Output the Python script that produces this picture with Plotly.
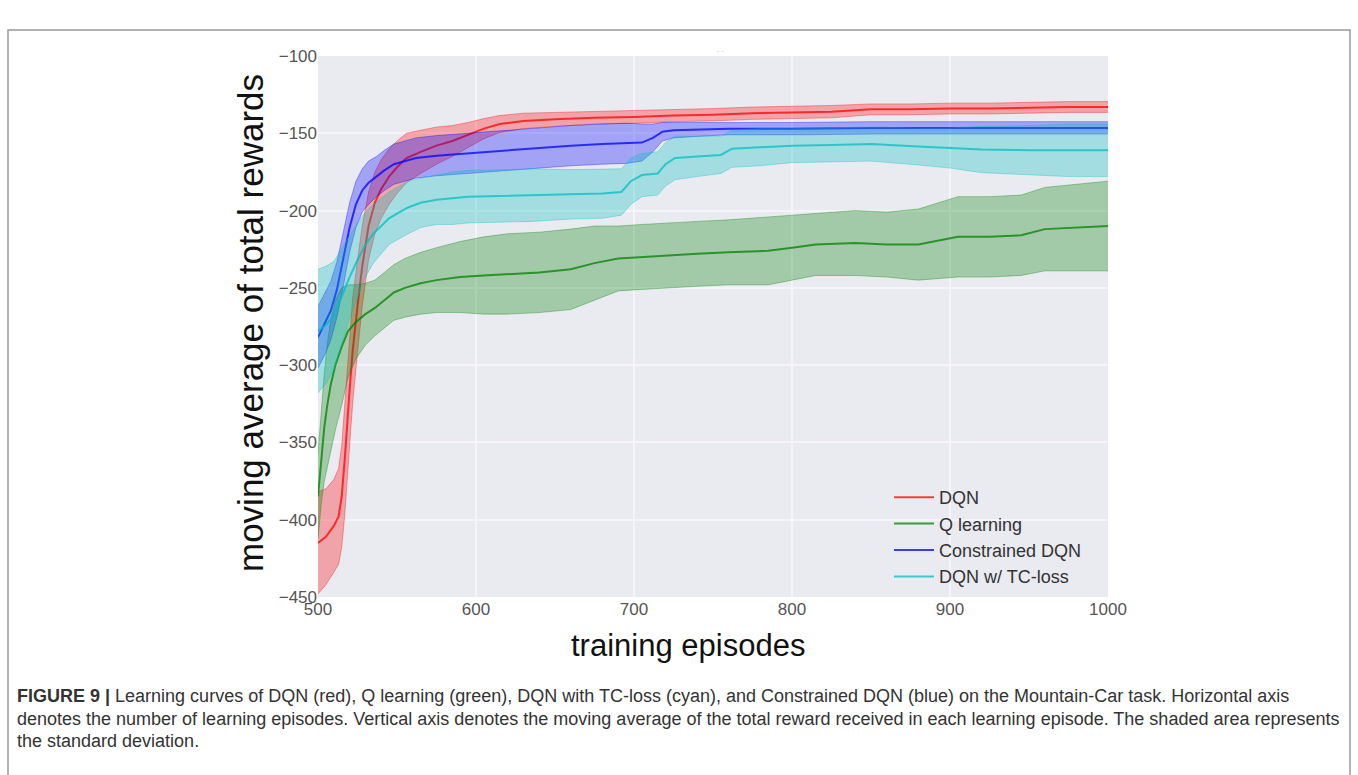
import plotly.graph_objects as go

# ---- data: moving average of total reward (mean and std) per method ----
dqn_ep = [500, 505, 510, 513, 515, 517, 520, 522, 525, 528, 532, 536, 540, 545, 550, 556, 565, 575, 585, 595,
          605, 615, 630, 650, 675, 700, 725, 750, 775, 800, 825, 850, 875, 900, 925, 950, 975, 1000]
dqn_mean = [-415, -411, -404, -398, -385, -360, -316, -290, -262, -236, -210, -195, -186, -178, -172, -166, -162, -158, -155, -151,
            -147, -144, -142, -141, -140, -139.5, -138.5, -138, -137, -136.5, -136, -134.5, -134.5, -134, -134, -133.5, -133, -133]
dqn_std = [33, 31, 30, 31, 33, 36, 36, 34, 30, 26, 22, 20, 19, 18, 17, 16, 14, 12, 10, 8,
           6.5, 5.5, 5, 4.5, 4, 4, 4, 4, 4, 4, 4, 3.5, 3.5, 3.5, 3.5, 3.5, 3.5, 3.5]

ql_ep = [500, 502, 504, 506, 508, 511, 515, 519, 524, 530, 536, 542, 548, 555, 565, 575, 590, 605, 620, 640,
         660, 675, 690, 705, 720, 740, 760, 785, 800, 815, 840, 860, 880, 905, 925, 945, 960, 980, 1000]
ql_mean = [-385, -360, -340, -325, -313, -300, -288, -278, -272, -267, -263, -258, -253, -250, -247, -245, -243, -242, -241, -240,
           -238, -234, -231, -230, -229, -228, -227, -226, -224, -222, -221, -222, -222, -217, -217, -216, -212, -211, -210]
ql_std = [28, 30, 35, 40, 42, 42, 38, 30, 24, 20, 18, 18, 18, 19, 20, 21, 23, 25, 26, 26,
          26, 24, 21, 21, 21, 21, 21, 22, 21, 20, 21, 21, 23, 26, 26, 26, 27, 28, 29]

cdqn_ep = [500, 504, 508, 512, 516, 520, 524, 528, 532, 537, 542, 548, 555, 562, 575, 594, 615, 636, 660, 680,
           695, 705, 712, 718, 725, 740, 760, 800, 850, 900, 950, 1000]
cdqn_mean = [-282, -274, -265, -251, -232, -211, -196, -187, -182, -178, -174, -170, -168, -166, -164.5, -163, -161.5, -160, -158, -157,
             -156.5, -156, -153, -149, -148, -147.5, -147, -147, -146.5, -146.5, -146.5, -146.5]
cdqn_std = [20, 20, 19, 18, 17, 16, 15, 14, 14, 13, 13, 13, 13, 13, 13, 13, 13, 13, 13, 13,
            13, 12, 9, 6, 5, 4.5, 4, 4, 4, 4, 4, 4]

tc_ep = [500, 505, 510, 516, 520, 525, 530, 535, 540, 545, 550, 557, 565, 575, 585, 595, 615, 636, 660, 680,
         692, 698, 705, 715, 720, 726, 740, 755, 762, 780, 800, 825, 850, 880, 900, 920, 950, 975, 1000]
tc_mean = [-278, -274, -268, -253, -243, -232, -222, -215, -210, -205, -202, -198, -195, -193, -192, -191, -190.5, -190, -189.5, -189,
           -188, -181, -177, -176, -170, -166, -165, -164, -160, -159, -158, -157.5, -157, -158.5, -159.5, -160.5, -161, -161, -161]
tc_std = [40, 38, 35, 30, 27, 24, 21, 19, 18, 17, 17, 17, 16, 16, 17, 17, 17, 17, 16, 16,
          15, 15, 14, 14, 14, 14, 13, 12, 12, 12, 11, 11, 11, 12, 13, 15, 16, 17, 17]

series = [
    ("DQN", dqn_ep, dqn_mean, dqn_std, (255, 0, 0)),
    ("Q learning", ql_ep, ql_mean, ql_std, (0, 128, 0)),
    ("Constrained DQN", cdqn_ep, cdqn_mean, cdqn_std, (0, 0, 255)),
    ("DQN w/ TC-loss", tc_ep, tc_mean, tc_std, (0, 191, 191)),
]

x_ticks = [500, 600, 700, 800, 900, 1000]
y_ticks = [-450, -400, -350, -300, -250, -200, -150, -100]

caption_lines = [
    "<b>FIGURE 9 |</b> Learning curves of DQN (red), Q learning (green), DQN with TC-loss (cyan), and Constrained DQN (blue) on the Mountain-Car task. Horizontal axis",
    "denotes the number of learning episodes. Vertical axis denotes the moving average of the total reward received in each learning episode. The shaded area represents",
    "the standard deviation.",
]

# ---- page geometry (pixels) ----
W, H = 1358, 775
PL, PR, PT, PB = 318, 1108, 56, 597


def px_x(p):
    return (p - PL) / (PR - PL)


def px_y(p):
    return (PB - p) / (PB - PT)


def rgba(c, a):
    return f"rgba({c[0]},{c[1]},{c[2]},{a})"


fig = go.Figure()

for name, ep, mean, std, col in series:
    upper = [m + s for m, s in zip(mean, std)]
    lower = [m - s for m, s in zip(mean, std)]
    fig.add_trace(go.Scatter(x=ep, y=upper, mode="lines", line=dict(color=rgba(col, 0.35), width=1),
                             showlegend=False, hoverinfo="skip"))
    fig.add_trace(go.Scatter(x=ep, y=lower, mode="lines", line=dict(color=rgba(col, 0.35), width=1),
                             fill="tonexty", fillcolor=rgba(col, 0.3), showlegend=False, hoverinfo="skip"))
    fig.add_trace(go.Scatter(x=ep, y=mean, mode="lines", name=name,
                             line=dict(color=rgba(col, 0.75), width=2)))

font_family = "Liberation Sans, Arial, sans-serif"

annotations = [
    dict(text="moving average of total rewards", x=px_x(250), y=px_y(323), xref="paper", yref="paper",
         textangle=-90, showarrow=False, font=dict(family=font_family, size=35, color="#111111"),
         xanchor="center", yanchor="middle"),
    dict(text="training episodes", x=px_x(688), y=px_y(645), xref="paper", yref="paper",
         showarrow=False, font=dict(family=font_family, size=31, color="#111111"),
         xanchor="center", yanchor="middle"),
    dict(text="- -", x=px_x(720), y=px_y(45), xref="paper", yref="paper", showarrow=False,
         font=dict(family=font_family, size=7, color="#c8c8c8")),
]
for i, line in enumerate(caption_lines):
    annotations.append(dict(text=line, x=px_x(15), y=px_y(696 + 22.5 * i), xref="paper", yref="paper",
                            showarrow=False, xanchor="left", yanchor="middle", align="left",
                            font=dict(family=font_family, size=18, color="#333333")))

fig.update_layout(
    width=W, height=H,
    margin=dict(l=PL, r=W - PR, t=PT, b=H - PB, pad=0),
    paper_bgcolor="white",
    plot_bgcolor="#EAEAF1",
    font=dict(family=font_family, color="#4d4d4d"),
    showlegend=True,
    legend=dict(x=px_x(889), y=px_y(479), xanchor="left", yanchor="top", traceorder="normal",
                bgcolor="rgba(0,0,0,0)", font=dict(size=18, color="#333333"),
                itemwidth=40, tracegroupgap=0),
    annotations=annotations,
    shapes=[dict(type="rect", xref="paper", yref="paper",
                 x0=px_x(8), x1=px_x(1350), y0=px_y(800), y1=px_y(30),
                 line=dict(color="#999999", width=1.5), layer="below")],
)

fig.update_xaxes(range=[500, 1000], tickvals=x_ticks, showgrid=True, gridcolor="#F6F4FA", gridwidth=1.5,
                 zeroline=False, showline=False, ticks="", tickfont=dict(size=17, color="#555555"))
fig.update_yaxes(range=[-450, -100], tickvals=y_ticks, showgrid=True, gridcolor="#F6F4FA", gridwidth=1.5,
                 zeroline=False, showline=False, ticks="", tickfont=dict(size=17, color="#555555"))

fig.write_html("out.html")
